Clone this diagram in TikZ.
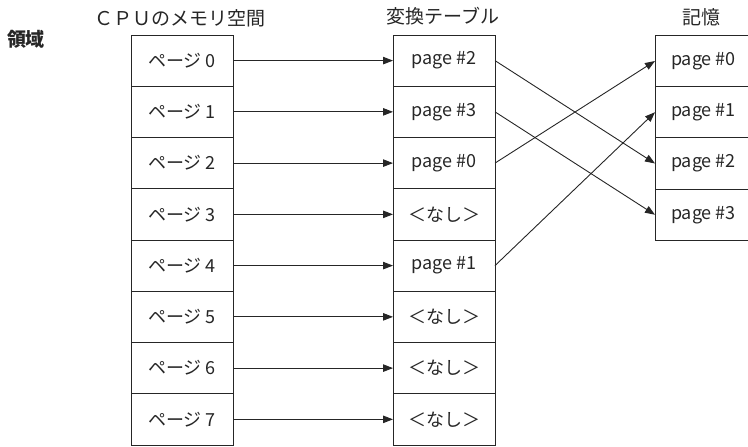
\documentclass[tikz,border=0pt]{standalone}
\usepackage{fontspec}
\setmainfont{Noto Sans CJK JP}
\usetikzlibrary{arrows.meta,positioning}

\begin{document}
\begin{tikzpicture}[
    x=1pt, y=-1pt,
    node distance=0pt,
    cell/.style={
        draw=black!85,
        line width=0.9pt,
        minimum width=102pt,
        minimum height=51.25pt,
        inner sep=0pt,
        outer sep=0pt,
        text=black!85,
        font=\fontsize{18}{21}\selectfont
    },
    memcell/.style={cell, minimum width=97pt},
    title/.style={text=black!85, font=\fontsize{19}{22}\selectfont},
    arrow/.style={-{Triangle[length=10pt,width=7.5pt]}, line width=0.9pt, draw=black!85}
]
\useasboundingbox (0,0) rectangle (748,447);
\clip (0,0) rectangle (748,447);

% CPU side
\node[cell] (p0) at (182,60.6) {ページ 0};
\node[cell, below=of p0] (p1) {ページ 1};
\node[cell, below=of p1] (p2) {ページ 2};
\node[cell, below=of p2] (p3) {ページ 3};
\node[cell, below=of p3] (p4) {ページ 4};
\node[cell, below=of p4] (p5) {ページ 5};
\node[cell, below=of p5] (p6) {ページ 6};
\node[cell, below=of p6] (p7) {ページ 7};

% table
\node[cell] (t0) at (444,60.6) {page \#2};
\node[cell, below=of t0] (t1) {page \#3};
\node[cell, below=of t1] (t2) {page \#0};
\node[cell, below=of t2] (t3) {＜なし＞};
\node[cell, below=of t3] (t4) {page \#1};
\node[cell, below=of t4] (t5) {＜なし＞};
\node[cell, below=of t5] (t6) {＜なし＞};
\node[cell, below=of t6] (t7) {＜なし＞};

% memory
\node[memcell] (m0) at (703.5,61) {page \#0};
\node[memcell, below=of m0] (m1) {page \#1};
\node[memcell, below=of m1] (m2) {page \#2};
\node[memcell, below=of m2] (m3) {page \#3};

\node[title] (cpu) at (180,18) {ＣＰＵのメモリ空間};
\node[title] (tbl) at (443,16) {変換テーブル};
\node[title] (mem) at (701,17) {記憶};
\node[title, font=\fontsize{19}{22}\selectfont\bfseries] (area) at (26,39) {領域};

\draw[arrow] (p0) -- (t0);
\draw[arrow] (p1) -- (t1);
\draw[arrow] (p2) -- (t2);
\draw[arrow] (p3) -- (t3);
\draw[arrow] (p4) -- (t4);
\draw[arrow] (p5) -- (t5);
\draw[arrow] (p6) -- (t6);
\draw[arrow] (p7) -- (t7);

\draw[arrow] (t0.east) -- (m2.west);
\draw[arrow] (t1.east) -- (m3.west);
\draw[arrow] (t2.east) -- (m0.west);
\draw[arrow] (t4.east) -- (m1.west);
\end{tikzpicture}
\end{document}
